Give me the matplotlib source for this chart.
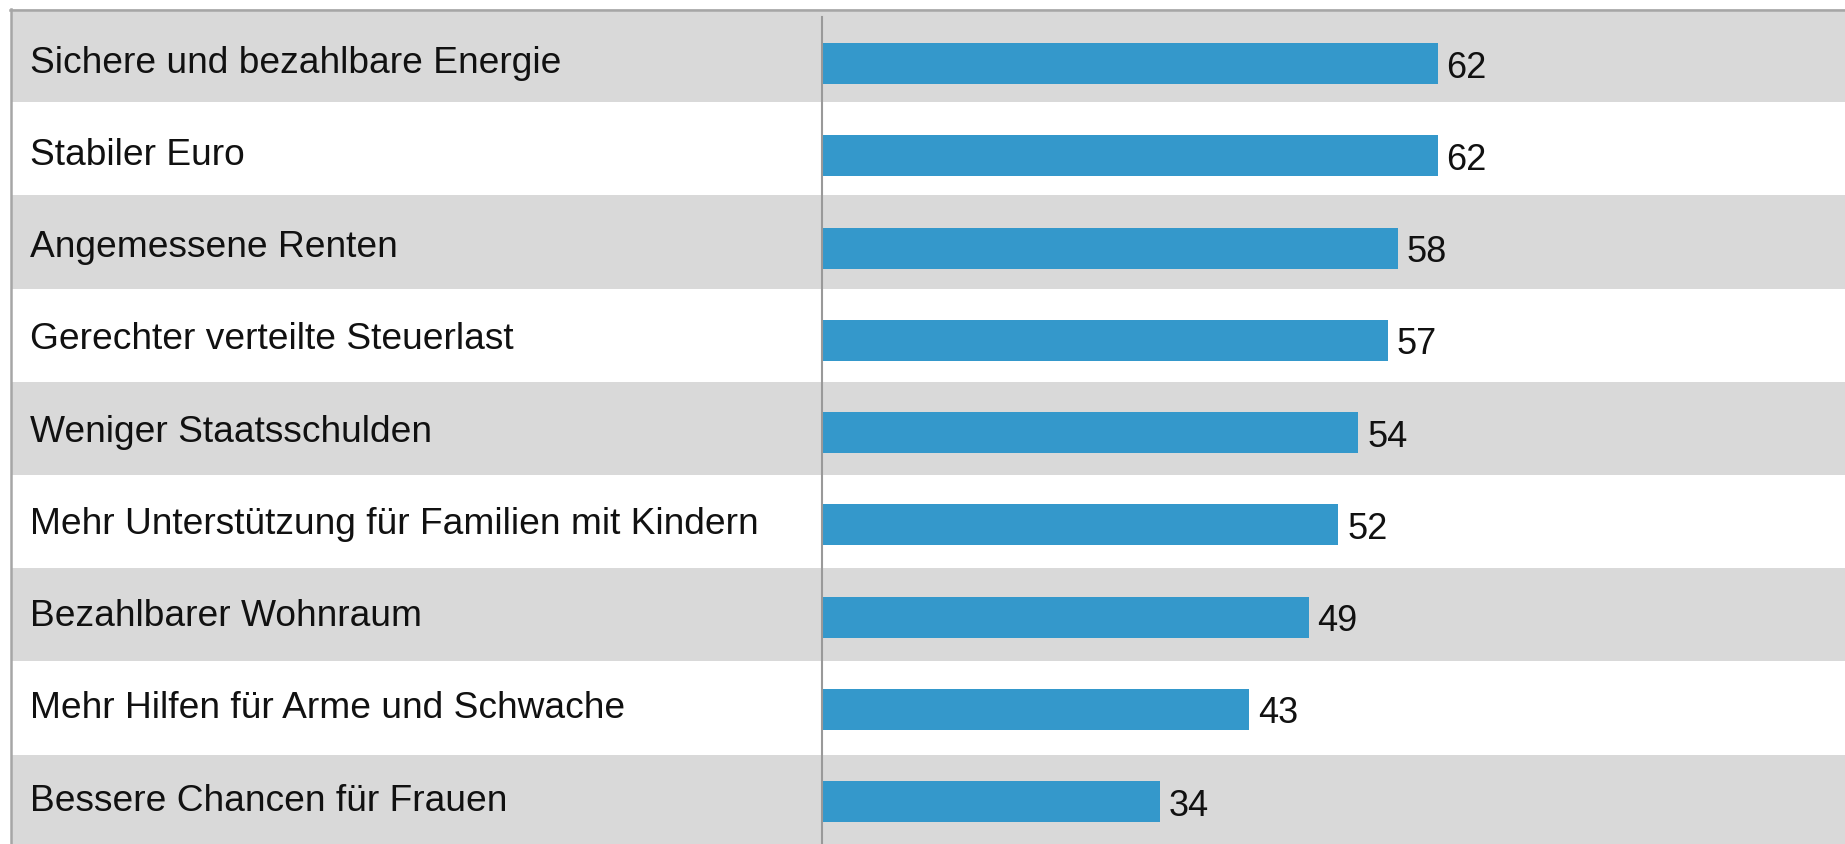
import numpy as np
import matplotlib.pyplot as plt
from matplotlib.transforms import blended_transform_factory

# Data
labels = [
    "Sichere und bezahlbare Energie",
    "Stabiler Euro",
    "Angemessene Renten",
    "Gerechter verteilte Steuerlast",
    "Weniger Staatsschulden",
    "Mehr Unterstützung für Familien mit Kindern",
    "Bezahlbarer Wohnraum",
    "Mehr Hilfen für Arme und Schwache",
    "Bessere Chancen für Frauen",
]
values = [62, 62, 58, 57, 54, 52, 49, 43, 34]

plt.rcParams['font.family'] = ['Liberation Sans', 'DejaVu Sans']

W, H = 1845, 845
fig = plt.figure(figsize=(W / 100, H / 100), dpi=100)
ax = fig.add_axes([0, 0, 1, 1])

# pixel geometry of the reference
top_px = 10.0      # top border
row_px = 93.2      # row (band) height
axis_px = 822.5    # x of zero line
unit_px = 9.92     # pixels per value unit
left_px = 10.5     # left border

ax.set_xlim(-axis_px / unit_px, (W - axis_px) / unit_px)
y_top = -0.5 - top_px / row_px
y_bot = -0.5 + (H - top_px) / row_px
ax.set_ylim(y_bot, y_top)
ax.axis('off')

n = len(labels)
# bars sit on a slightly tighter pitch than the bands
y = 0.087 + np.arange(n) * 0.9898

# alternating row bands
for i in range(n):
    if i % 2 == 0:
        ax.axhspan(i - 0.5, i + 0.5, xmin=left_px / W, xmax=1,
                   color='#d9d9d9', lw=0, zorder=0)

ax.barh(y, values, height=0.44, color='#3498cb', zorder=2)

trans = blended_transform_factory(ax.transAxes, ax.transData)
for yi, lab in zip(y, labels):
    ax.text(30 / W, yi + 8 / row_px, lab, transform=trans, fontsize=26.7,
            va='baseline', ha='left', color='#111111')

for yi, v in zip(y, values):
    ax.text(v + 0.9, yi + 13 / row_px, str(v), fontsize=26, va='baseline',
            ha='left', color='#111111', zorder=3)

# borders and zero line
ax.axhline(-0.5 + 0.5 / row_px, xmin=(left_px - 1) / W, xmax=1,
           color='#a6a6a6', lw=1.8, zorder=3)
ax.plot([-(axis_px - left_px) / unit_px] * 2, [-0.5, y_bot], color='#a6a6a6',
        lw=1.8, zorder=3, clip_on=False)
ax.plot([0, 0], [-0.5 + 8 / row_px, y_bot], color='#999999', lw=1.5, zorder=3)

fig.savefig('out.png', dpi=100)
